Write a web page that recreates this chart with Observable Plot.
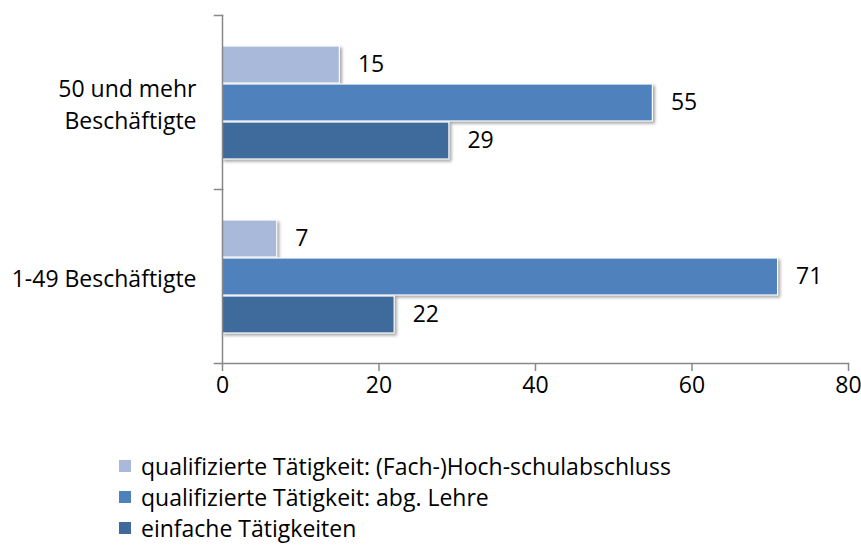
<!DOCTYPE html>
<html><head><meta charset="utf-8">
<script src="https://cdn.jsdelivr.net/npm/d3@7"></script>
<script src="https://cdn.jsdelivr.net/npm/@observablehq/plot@0.6"></script>
<style>
body{margin:0;background:#fff;font-family:"Open Sans",sans-serif;}
#chart svg [aria-label="bar"] rect{filter:drop-shadow(2px 2px 1.5px rgba(0,0,0,0.35));}
#legend{margin-left:119px;margin-top:40px;}
#legend .row{display:flex;align-items:center;height:31px;font-size:23px;color:#000;}
#legend .sw{width:12px;height:12px;margin-right:10px;flex:none;}
</style>
</head><body><div id="chart"></div><div id="legend"></div>
<script>
const categories = ["50 und mehr\nBeschäftigte", "1-49 Beschäftigte"];
const series = ["qualifizierte Tätigkeit: (Fach-)Hoch-schulabschluss", "qualifizierte Tätigkeit: abg. Lehre", "einfache Tätigkeiten"];
const valuesLarge = [15, 55, 29];
const valuesSmall = [7, 71, 22];
const colors = ["#a9b9d9", "#4f81bd", "#3e6a9c"];
const xTicks = [0, 20, 40, 60, 80];

const data = [];
[valuesLarge, valuesSmall].forEach((vals, i) =>
  series.forEach((s, j) => data.push({category: categories[i], series: s, value: vals[j]})));

const W = 861, H = 410;
const mL = 222, mR = 13, mT = 15, mB = H - 363;
const axisColor = "#888888";

const chart = Plot.plot({
  width: W, height: H,
  marginLeft: mL, marginRight: mR, marginTop: mT, marginBottom: mB,
  style: {fontFamily: "Open Sans", fontSize: "23px", color: "#000", background: "#fff", overflow: "visible"},
  x: {domain: [0, 80], ticks: xTicks},
  y: {domain: series, paddingInner: 0.03, paddingOuter: 0.8, axis: null},
  fy: {domain: categories, padding: 0, axis: null},
  color: {domain: series, range: colors},
  marks: [
    Plot.barX(data, {fy: "category", y: "series", x: "value", fill: "series", stroke: "white", strokeWidth: 1.2}),
    Plot.text(data, {fy: "category", y: "series", x: "value", text: d => String(d.value), textAnchor: "start", dx: 18, fill: "#000"}),
    Plot.frame({anchor: "left", stroke: axisColor, strokeWidth: 1.5}),
    Plot.frame({anchor: "top", insetLeft: -8, insetRight: W - mL - mR, stroke: axisColor, strokeWidth: 1.5}),
    Plot.frame({anchor: "bottom", facetAnchor: "bottom", insetLeft: -8, stroke: axisColor, strokeWidth: 1.5}),
    Plot.axisX({ticks: xTicks, tickSize: 8, text: null, stroke: axisColor, strokeWidth: 1.5, label: null}),
    Plot.axisX({ticks: xTicks, tickSize: 0, tickPadding: 13, label: null, fill: "#000"}),
    Plot.axisFy({anchor: "left", tickSize: 0, tickPadding: 26, label: null, lineHeight: 1.4, textAnchor: "end", fill: "#000"})
  ]
});
document.getElementById("chart").appendChild(chart);

const legend = document.getElementById("legend");
series.forEach((s, i) => {
  const row = document.createElement("div");
  row.className = "row";
  const sw = document.createElement("span");
  sw.className = "sw";
  sw.style.background = colors[i];
  const t = document.createElement("span");
  t.textContent = s;
  row.appendChild(sw); row.appendChild(t);
  legend.appendChild(row);
});
</script>
</body></html>
